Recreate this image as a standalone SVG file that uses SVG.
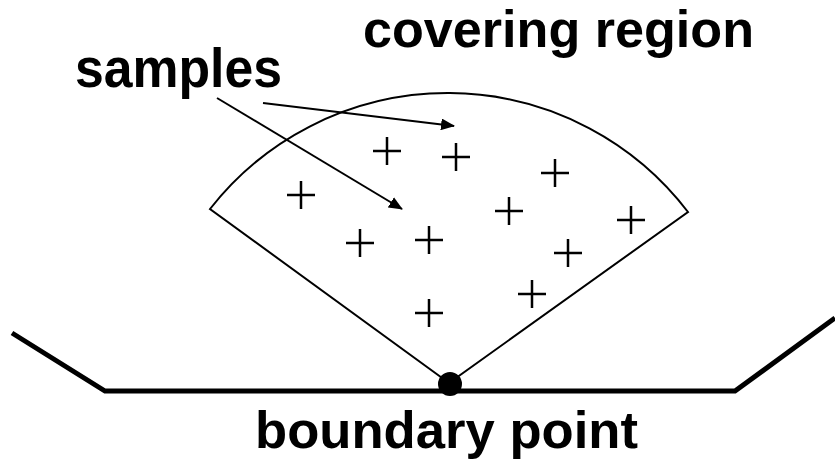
<svg xmlns="http://www.w3.org/2000/svg" width="835" height="461" viewBox="0 0 835 461">
<style>
.lbl{font-family:"Liberation Sans",Arial,sans-serif;font-weight:bold;font-size:52px;fill:#000}
.thin{fill:none;stroke:#000;stroke-width:2}
.cross{fill:none;stroke:#000;stroke-width:2.5}
.ground{fill:none;stroke:#000;stroke-width:5}
</style>
<defs>
<marker id="ah" markerWidth="14" markerHeight="12" refX="13" refY="6" orient="auto" markerUnits="userSpaceOnUse">
<path d="M0,0 L14,6 L0,12 Z" fill="#000"/>
</marker>
<path id="x" d="M-14,0 H14 M0,-14 V14" class="cross"/>
</defs>
<rect width="835" height="461" fill="#fff"/>
<g id="ground">
<polyline class="ground" points="12,333 105,391 735,391 835,318"/>
</g>
<g id="covering-region">
<path class="thin" d="M449,383 L210,209 A302,302 0 0 1 688,212 Z"/>
</g>
<g id="samples-points">
<use href="#x" x="387" y="151"/>
<use href="#x" x="456" y="157"/>
<use href="#x" x="555" y="173"/>
<use href="#x" x="301" y="195"/>
<use href="#x" x="509" y="211"/>
<use href="#x" x="631" y="220"/>
<use href="#x" x="360" y="243"/>
<use href="#x" x="429" y="240"/>
<use href="#x" x="568" y="253"/>
<use href="#x" x="532" y="294"/>
<use href="#x" x="429" y="313"/>
</g>
<g id="boundary-point">
<circle cx="450" cy="384" r="12" fill="#000"/>
</g>
<g id="connectors">
<path class="thin" d="M263,103 Q340,112 454,126" marker-end="url(#ah)"/>
<path class="thin" d="M217,98 L402,209" marker-end="url(#ah)"/>
</g>
<g id="labels">
<text class="lbl" x="363" y="47" textLength="391" lengthAdjust="spacingAndGlyphs">covering region</text>
<text class="lbl" x="75" y="87" textLength="207" lengthAdjust="spacingAndGlyphs" style="font-size:55px">samples</text>
<text class="lbl" x="255" y="448" textLength="383" lengthAdjust="spacingAndGlyphs">boundary point</text>
</g>
</svg>
